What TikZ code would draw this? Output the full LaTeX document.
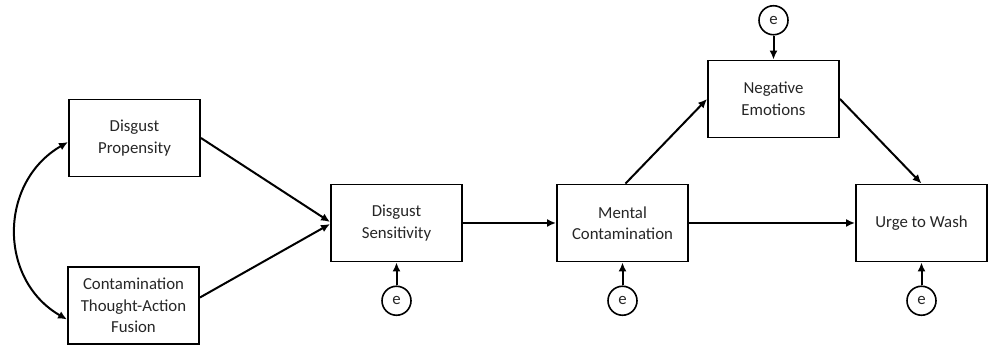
\documentclass[tikz,border=0pt]{standalone}
\usepackage{fontspec}
\setmainfont{Carlito}
\usetikzlibrary{positioning,arrows.meta}
\tikzset{
box/.style={
	  draw, line width=1.9pt, minimum width=131pt, minimum
    height=77pt, align=center, text=black!85,
    font=\fontsize{16.8}{21.5}\selectfont},
err/.style={
	  draw, circle, line width=1.6pt, minimum size=29pt, inner sep=0pt,
    text=black!85, font=\fontsize{16.8}{20}\selectfont},
arr/.style={->, line width=2pt}
}

\begin{document}
\begin{tikzpicture}[x=1pt, y=1pt, node distance=23pt, >={Latex[length=9pt,
	width=8pt]}]
	\useasboundingbox (0,0) rectangle (988,345);
	\node[box] (dp) at (134.5,207) {Disgust\\Propensity};
	\node[box] (ctaf) at (133.5,39.5) {Contamination\\Thought-Action\\Fusion};
	\node[box] (ds) at (396.5,122) {Disgust\\Sensitivity};
	\node[box] (mc) at (622.5,122) {Mental\\Contamination};
	\node[box] (ne) at (773.5,246) {Negative\\Emotions};
	\node[box] (uw) at (921.5,122) {Urge to Wash};
	\node[err, below=of ds] (eds) {e};
	\node[err, below=of mc] (emc) {e};
	\node[err, below=of uw] (euw) {e};
	\node[err, above=24pt of ne] (ene) {e};
	\draw[arr] (dp.east) -- ([yshift=1pt]ds.west);
	\draw[arr] ([yshift=8pt]ctaf.east) -- ([yshift=-1pt]ds.west);
	\draw[arr] (ds.east) -- (mc.west);
	\draw[arr] (mc.east) -- (uw.west);
	\draw[arr] ([xshift=3pt]mc.north) -- (ne.west);
	\draw[arr] (ne.east) -- (uw.north);
	\draw[arr] (eds) -- (ds);
	\draw[arr] (emc) -- (mc);
	\draw[arr] (euw) -- (uw);
	\draw[arr] (ene) -- (ne);
	\draw[arr, <->] ([yshift=-4pt]dp.west) to[out=210, in=150, looseness=1.15]
		([yshift=-14pt]ctaf.west);
\end{tikzpicture}
\end{document}
